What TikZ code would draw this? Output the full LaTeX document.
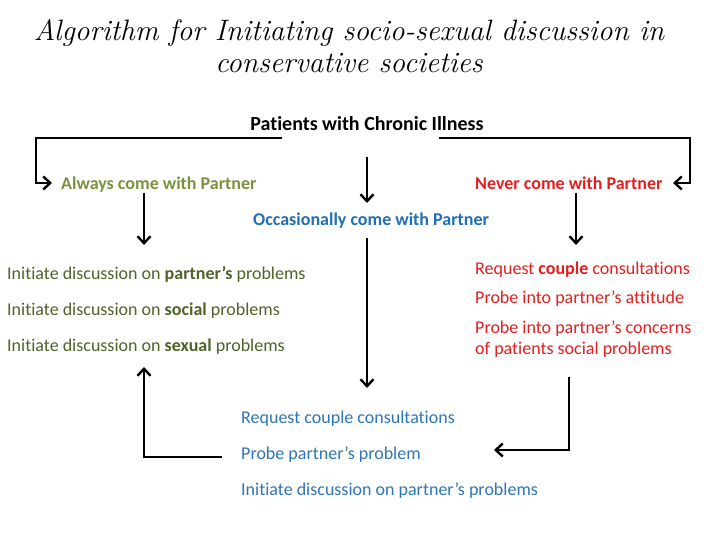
\documentclass[tikz,border=0pt]{standalone}
\usepackage{fontspec}
\setmainfont[Ligatures=CommonOff]{Carlito}
\newfontfamily\titlefont{Latin Modern Roman}
\usetikzlibrary{arrows.meta}
\definecolor{alwaysgreen}{HTML}{77933C}
\definecolor{listgreen}{HTML}{4F6228}
\definecolor{neverred}{HTML}{E41E1E}
\definecolor{occblue}{HTML}{1F6FB5}
\definecolor{listblue}{HTML}{2E75B6}
\tikzset{
  txt/.style={inner sep=0pt, font=\fontsize{18}{21}\selectfont, text height=14.5pt, text depth=1.5pt},
  head/.style={txt, font=\fontsize{18}{21}\selectfont\bfseries},
  conn/.style={line width=2.4pt, -{Straight Barb[length=7pt,width=13pt,line width=2.4pt]}}
}
\begin{document}
\begin{tikzpicture}[x=1pt,y=-1pt]
\useasboundingbox (0,0) rectangle (720,540);
% title
\node[inner sep=0pt, font=\fontsize{29.5}{32}\titlefont\itshape, align=center] (title) at (349,46)
  {Algorithm for Initiating socio-sexual discussion in\\conservative societies};
% top
\node[head, font=\fontsize{20}{24}\selectfont\bfseries] (pat) at (367,124) {Patients with Chronic Illness};
\node[head, text=alwaysgreen, anchor=west] (alw) at (61,183) {Always come with Partner};
\node[head, text=neverred, anchor=west] (nev) at (475,183) {Never come with Partner};
\node[head, text=occblue, anchor=west] (occ) at (253,219) {Occasionally come with Partner};
% left list
\node[txt, text=listgreen, anchor=west] (l1) at (7,273) {Initiate discussion on \textbf{partner’s} problems};
\node[txt, text=listgreen, anchor=west] (l2) at (7,309) {Initiate discussion on \textbf{social} problems};
\node[txt, text=listgreen, anchor=west] (l3) at (7,345) {Initiate discussion on \textbf{sexual} problems};
% right list
\node[txt, text=neverred, anchor=west] (r1) at (475,268) {Request \textbf{couple} consultations};
\node[txt, text=neverred, anchor=west] (r2) at (475,297) {Probe into partner’s attitude};
\node[txt, text=neverred, anchor=west] (r3) at (475,327) {Probe into partner’s concerns};
\node[txt, text=neverred, anchor=west] (r4) at (475,348) {of patients social problems};
% bottom list
\node[txt, text=listblue, anchor=west] (b1) at (241,417) {Request couple consultations};
\node[txt, text=listblue, anchor=west] (b2) at (241,453) {Probe partner’s problem};
\node[txt, text=listblue, anchor=west] (b3) at (241,489) {Initiate discussion on partner’s problems};
% coordinates
\coordinate (tl) at (282,138);
\coordinate (tr) at (439,138);
\coordinate (ltip) at (52,183);
\coordinate (rtip) at (673,183);
\coordinate (mtop) at (367,157);
\coordinate (mtip) at (367,203);
\coordinate (atop) at (144,193);
\coordinate (atip) at (144,245);
\coordinate (ntop) at (576,193);
\coordinate (ntip) at (576,245);
\coordinate (omid) at (367,238);
\coordinate (otip) at (367,388);
\coordinate (lret) at (222,457);
\coordinate (lcorner) at (144,457);
\coordinate (lrtip) at (144,367);
\coordinate (rret) at (569,377);
\coordinate (rcorner) at (569,450);
\coordinate (rrtip) at (494,450);
% connectors
\draw[conn] (tl) -| (36,183) -- (ltip);
\draw[conn] (tr) -| (690,183) -- (rtip);
\draw[conn] (mtop) -- (mtip);
\draw[conn] (atop) -- (atip);
\draw[conn] (ntop) -- (ntip);
\draw[conn] (omid) -- (otip);
\draw[conn] (lret) -- (lcorner) -- (lrtip);
\draw[conn] (rret) -- (rcorner) -- (rrtip);
\end{tikzpicture}
\end{document}
